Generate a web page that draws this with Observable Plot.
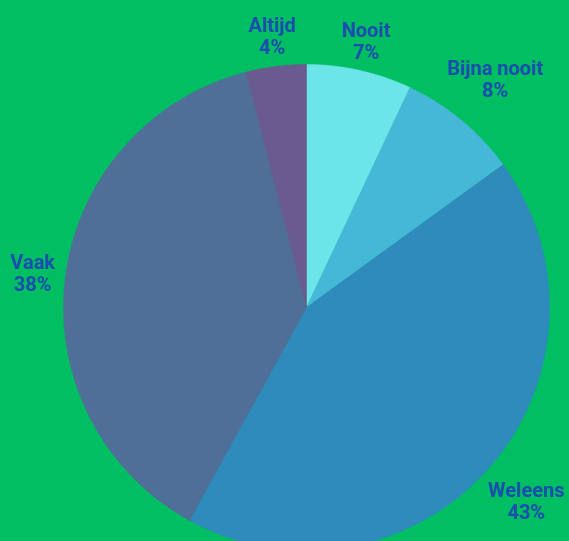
<!DOCTYPE html>
<html><head><meta charset="utf-8">
<script src="https://cdn.jsdelivr.net/npm/d3@7"></script>
<script src="https://cdn.jsdelivr.net/npm/@observablehq/plot@0.6"></script>
<style>html,body{margin:0;padding:0;background:#00bf63;overflow:hidden}</style>
</head><body><div id="chart"></div>
<script>
// Data
const categories = ["Nooit", "Bijna nooit", "Weleens", "Vaak", "Altijd"];
const percentages = [7, 8, 43, 38, 4];
const colors = ["#6ce5e8", "#45b8d8", "#2e8bbb", "#506f98", "#6a5a8f"];

// Layout
const W = 569, H = 541, cx = 306, cy = 307, R = 243;
const labelRadiusPx = [273, 296, 293, 276, 274];

const arcs = d3.pie().sort(null).value(d => d)(percentages);
const slicePts = [];
arcs.forEach((a, i) => {
  const cat = categories[i];
  slicePts.push({cat, x: 0, y: 0});
  const n = Math.max(2, Math.ceil((a.endAngle - a.startAngle) / 0.01));
  for (let k = 0; k <= n; k++) {
    const t = a.startAngle + (a.endAngle - a.startAngle) * k / n;
    slicePts.push({cat, x: Math.sin(t), y: Math.cos(t)});
  }
  slicePts.push({cat, x: 0, y: 0});
});
const labels = arcs.map((a, i) => {
  const m = (a.startAngle + a.endAngle) / 2;
  const r = labelRadiusPx[i] / R;
  return {cat: categories[i], pct: percentages[i], x: r * Math.sin(m), y: r * Math.cos(m)};
});

const chart = Plot.plot({
  width: W, height: H,
  margin: 0,
  x: {domain: [-cx / R, (W - cx) / R], axis: null},
  y: {domain: [-(H - cy) / R, cy / R], axis: null},
  color: {domain: categories, range: colors},
  style: {background: "#00bf63", fontFamily: "Roboto, sans-serif", overflow: "hidden"},
  marks: [
    Plot.line(slicePts, {x: "x", y: "y", z: "cat", fill: "cat", stroke: "cat", strokeWidth: 0.5, curve: "linear"}),
    Plot.text(labels, {
      x: "x", y: "y",
      text: d => `${d.cat}\n${d.pct}%`,
      fill: "#1a4fad", fontSize: 20, fontWeight: 700, lineHeight: 1.1
    })
  ]
});
document.getElementById("chart").appendChild(chart);
</script>
</body></html>
